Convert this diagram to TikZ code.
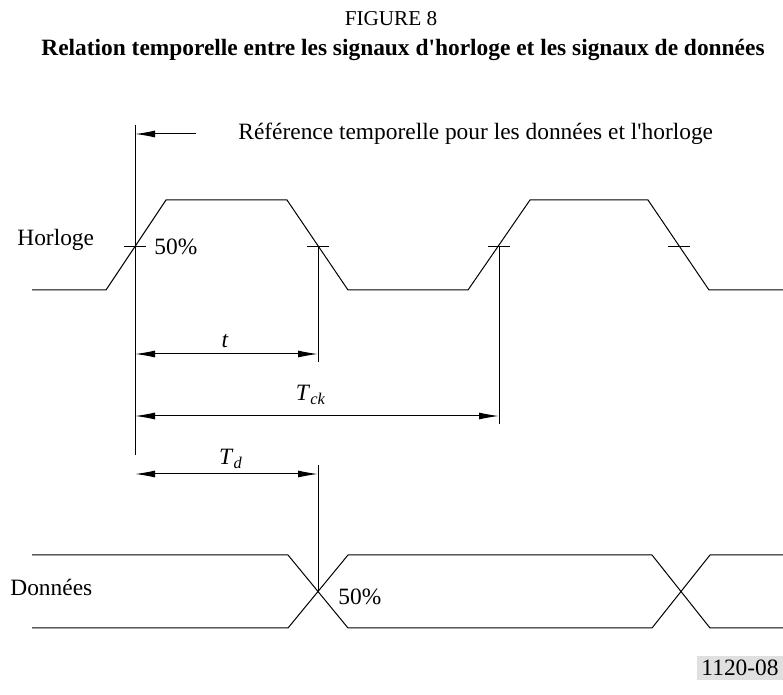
\documentclass[tikz,border=0pt]{standalone}
\usepackage{fontspec}
\setmainfont{Liberation Serif}
\usetikzlibrary{arrows.meta,positioning}
\definecolor{tagGray}{gray}{.88}

\begin{document}
\begin{tikzpicture}[x=0.5pt,y=-0.5pt,% pixel grid, y going down
      every node/.style={
        font=\fontsize{11.7}{13}\selectfont,
        inner sep=0pt
      },
      head/.style={font=\fontsize{10.6}{12}\selectfont},
      wave/.style={line width=0.5pt,line join=miter},
      guide/.style={line width=0.4pt},
      dim/.style={line width=0.5pt,{Latex[length=10pt,width=3.5pt]}-{Latex[length=10pt,width=3.5pt]}},
      refarrow/.style={line width=0.5pt,-{Latex[length=10pt,width=3.5pt]}}
    ]
    \useasboundingbox (0,0) rectangle (783,695);
    % titles
    \node[head](Fig) at (391,19){FIGURE 8};
    \node[font=\fontsize{11.7}{13}\selectfont\bfseries](Title) at (403,50){Relation temporelle entre les signaux d\textquotesingle horloge et les signaux de donn\'ees};
    % clock waveform
    \draw[wave] (32,290) -- (106,290) -- (166,200) -- (287,200) -- (348,290) -- (468,290)
      -- (530,200) -- (648,200) -- (709,290) -- (783,290);
    \foreach \x in {135,318,499,679}
      \draw[guide] (\x-11,246) -- (\x+11,246);
    \node[anchor=west](Clk) at (17,240){Horloge};
    \node[anchor=west](P1) at (154,247){50\%};
    % time reference
    \coordinate (RefTop) at (135,125);
    \coordinate (RefBot) at (135,455);
    \draw[guide] (RefTop) -- (RefBot);
    \coordinate (RefTail) at (196,134);
    \coordinate (RefHead) at (135,134);
    \draw[refarrow] (RefTail) -- (RefHead);
    \node[anchor=west](RefTxt) at (238,134){R\'ef\'erence temporelle pour les donn\'ees et l\textquotesingle horloge};
    % t
    \coordinate (FallA) at (318,246);
    \coordinate (FallB) at (318,362);
    \draw[guide] (FallA) -- (FallB);
    \coordinate (tL) at (135,354);
    \coordinate (tR) at (318,354);
    \draw[dim] (tL) -- (tR);
    \node(tLbl) at (225,341){\textit{t}};
    % Tck
    \coordinate (RiseA) at (499,246);
    \coordinate (RiseB) at (499,424);
    \draw[guide] (RiseA) -- (RiseB);
    \coordinate (TckL) at (135,416);
    \coordinate (TckR) at (499,416);
    \draw[dim] (TckL) -- (TckR);
    \node(TckLbl) at (311,395){\textit{T}\textsubscript{\textit{ck}}};
    % Td
    \coordinate (DatA) at (318,465);
    \coordinate (DatX) at (318,591.5);
    \draw[guide] (DatA) -- (DatX);
    \coordinate (TdL) at (135,474);
    \coordinate (TdR) at (318,474);
    \draw[dim] (TdL) -- (TdR);
    \node(TdLbl) at (231,459){\textit{T}\textsubscript{\textit{d}}};
    % data waveform
    \draw[wave] (32,555) -- (288,555) -- (348,628) -- (652,628) -- (710,555) -- (783,555);
    \draw[wave] (32,628) -- (288,628) -- (348,555) -- (652,555) -- (710,628) -- (783,628);
    \node[anchor=west](Dat) at (10,587){Donn\'ees};
    \node[anchor=west](P2) at (338,597){50\%};
    % tag
    \node[anchor=east,fill=tagGray,inner sep=2pt](Tag) at (783,668){1120-08};
  \end{tikzpicture}
\end{document}
